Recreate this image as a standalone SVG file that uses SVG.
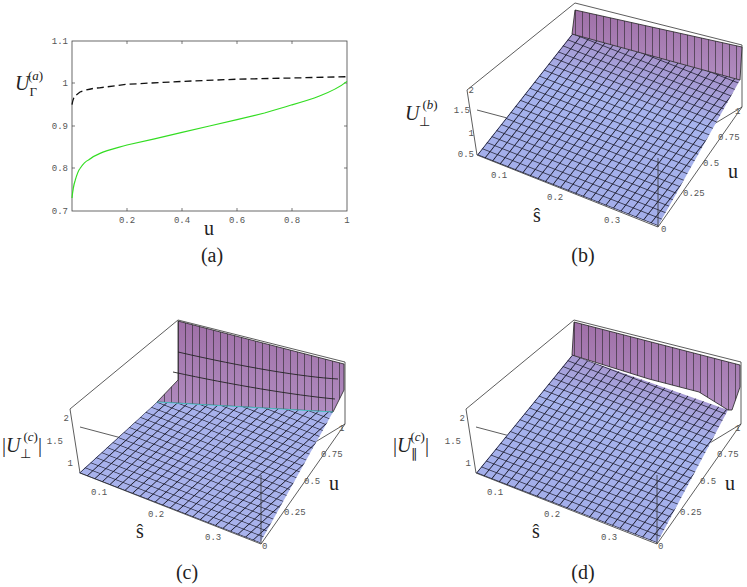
<svg xmlns="http://www.w3.org/2000/svg" width="747" height="587" viewBox="0 0 747 587">
<style>
.tk{font-family:"Liberation Mono",monospace;font-size:9px;fill:#555}
.lb{font-family:"Liberation Serif",serif;font-size:20px;fill:#222}
.it{font-style:italic}
.sm{font-size:13px}
.box{fill:none;stroke:#333;stroke-width:0.8}
.grid{fill:none;stroke:#1a1a2a;stroke-width:2.1}
</style>
<defs>
<linearGradient id="pg" gradientUnits="userSpaceOnUse" x1="600" y1="200" x2="650" y2="40">
<stop offset="0" stop-color="#a3aeea"/><stop offset="0.6" stop-color="#a7b4ee"/><stop offset="1" stop-color="#a68bc4"/>
</linearGradient>
<linearGradient id="wg" x1="0" y1="0" x2="0" y2="1">
<stop offset="0" stop-color="#a070a8"/><stop offset="1" stop-color="#b08cc0"/>
</linearGradient>
<pattern id="gb" patternUnits="userSpaceOnUse" width="10" height="10" patternTransform="matrix(0.754 0.296 0.475 -0.605 477 155)">
<path class="grid" d="M0 0H10M0 0V10"/>
</pattern>
<pattern id="gd" patternUnits="userSpaceOnUse" width="10" height="10" patternTransform="matrix(0.754 0.292 0.48 -0.59 477 156)">
<path class="grid" d="M0 0H10M0 0V10"/>
</pattern>
<pattern id="gc" patternUnits="userSpaceOnUse" width="10" height="10" patternTransform="matrix(0.754 0.292 0.55 -0.505 476 156)">
<path class="grid" d="M0 0H10M0 0V10"/>
</pattern>
<pattern id="wv" patternUnits="userSpaceOnUse" width="10" height="10" patternTransform="matrix(0.70 0.18 0 1 575 0)">
<path fill="none" stroke="#222" stroke-width="1.6" d="M0 0V10"/>
</pattern>
</defs>

<g id="panel-a">
<rect x="72" y="41" width="275" height="170" fill="none" stroke="#444" stroke-width="0.8"/>
<path stroke="#444" stroke-width="0.7" d="M127 211v-3M182 211v-3M237 211v-3M292 211v-3M127 41v3M182 41v3M237 41v3M292 41v3M72 168h3M72 126h3M72 83h3M347 168h-3M347 126h-3M347 83h-3"/>
<path fill="none" stroke="#111" stroke-width="1.3" stroke-dasharray="7,4" d="M72 104.7 C73 99 74 97 75 96 L80 92 C88 89 95 88 99.5 87.8 L127 84.3 L182 81.4 L237 79.2 L292 78 L347 76.7"/>
<path fill="none" stroke="#33dd22" stroke-width="1.2" d="M72 198 C73 188 74 184 75 181 C77 174 78 171 80 168.5 C83 164 86 161 88.5 160 C92 157 96 155 99.5 153.6 C108 150 117 148 127 145 L154.5 138.8 L182 132.4 L209.5 126 L237 119.6 L264.5 113 C275 110 285 107 292 104.8 C302 102 312 99 319.5 96 C330 92 340 87 347 81.4"/>
<g class="tk" text-anchor="end">
<text x="68" y="44">1.1</text><text x="68" y="86">1</text><text x="68" y="129">0.9</text><text x="68" y="171">0.8</text><text x="68" y="214">0.7</text>
</g>
<g class="tk" text-anchor="middle">
<text x="127" y="223">0.2</text><text x="182" y="223">0.4</text><text x="237" y="223">0.6</text><text x="292" y="223">0.8</text><text x="347" y="223">1</text>
</g>
<text class="lb" x="209" y="235" text-anchor="middle">u</text>
<text class="lb" x="15" y="90"><tspan class="it">U</tspan><tspan class="sm" dy="6">Γ</tspan><tspan class="sm" dx="-9" dy="-16">(</tspan><tspan class="sm it">a</tspan><tspan class="sm">)</tspan></text>
<text class="lb" x="212" y="262" text-anchor="middle">(a)</text>
</g>

<g id="panel-b">
<path class="box" d="M467 90L575 3L742 45M467 90L477 155M742 45V107M477 110L658 158L742 107"/>
<polygon points="477,155 658,226 740,80 572,34" fill="url(#pg)"/>
<polygon points="477,155 658,226 740,80 572,34" fill="url(#gb)"/>
<polygon points="575,10 742,47 740,80 572,34" fill="url(#wg)" stroke="#222" stroke-width="0.8"/>
<polygon points="575,10 742,47 740,80 572,34" fill="url(#wv)"/>
<path class="box" d="M477 155L658 227L742 107M658 158V227"/>
<g class="tk" text-anchor="end"><text x="474" y="93">2</text><text x="470" y="113">1.5</text><text x="474" y="136">1</text><text x="474" y="157">0.5</text></g>
<g class="tk"><text x="491" y="178">0.1</text><text x="547" y="200">0.2</text><text x="604" y="223">0.3</text><text x="661" y="232">0</text><text x="683" y="196">0.25</text><text x="703" y="166">0.5</text><text x="718" y="140">0.75</text><text x="735" y="114">1</text></g>
<text class="lb" x="537" y="222" text-anchor="middle">ŝ</text>
<text class="lb" x="733" y="178" text-anchor="middle">u</text>
<text class="lb" x="405" y="120"><tspan class="it">U</tspan><tspan class="sm" dy="6">⊥</tspan><tspan class="sm" dx="-8" dy="-17">(</tspan><tspan class="sm it">b</tspan><tspan class="sm">)</tspan></text>
<text class="lb" x="583" y="262" text-anchor="middle">(b)</text>
</g>

<g id="panel-c" transform="translate(-397,317)">
<path class="box" d="M467 92L575 3L742 45M467 92L477 156M742 45V107M477 110L658 158L742 107"/>
<polygon points="575,4 741,47 741,73 730,95 554,85 575,63" fill="url(#wg)" stroke="#222" stroke-width="0.8"/>
<polygon points="575,4 741,47 741,73 730,95 554,85 575,63" fill="url(#wv)"/>
<path fill="none" stroke="#222" stroke-width="0.9" d="M575 35C640 50 700 60 735 62M570 55C630 68 690 78 732 82"/>
<polygon points="476,156 657,226 730,95 554,85" fill="#a8b2ec"/>
<polygon points="476,156 657,226 730,95 554,85" fill="url(#gc)"/>
<path stroke="#4cc" stroke-width="0.8" d="M554 85L730 95"/>
<path class="box" d="M477 156L658 227L742 107M658 158V227"/>
<g class="tk" text-anchor="end"><text x="466" y="104">2</text><text x="460" y="127">1.5</text><text x="470" y="149">1</text></g>
<g class="tk"><text x="488" y="178">0.1</text><text x="545" y="200">0.2</text><text x="602" y="223">0.3</text><text x="659" y="232">0</text><text x="681" y="198">0.25</text><text x="701" y="167">0.5</text><text x="718" y="140">0.75</text><text x="736" y="114">1</text></g>
<text class="lb" x="537" y="221" text-anchor="middle">ŝ</text>
<text class="lb" x="731" y="173" text-anchor="middle">u</text>
<text class="lb" x="399" y="135"><tspan>|</tspan><tspan class="it">U</tspan><tspan class="sm" dy="6">⊥</tspan><tspan class="sm" dx="-8" dy="-17">(</tspan><tspan class="sm it">c</tspan><tspan class="sm">)</tspan><tspan dy="11">|</tspan></text>
<text class="lb" x="584" y="262" text-anchor="middle">(c)</text>
</g>

<g id="panel-d" transform="translate(-1,317)">
<path class="box" d="M467 92L575 3L742 45M467 92L477 156M742 45V107M477 110L658 158L742 107"/>
<polygon points="477,156 658,226 729,93 573,38" fill="url(#pg)"/>
<polygon points="477,156 658,226 729,93 573,38" fill="url(#gd)"/>
<polygon points="575,5 741,48 741,70 733,93 729,93 700,75 650,62 573,38" fill="url(#wg)" stroke="#222" stroke-width="0.8"/>
<polygon points="575,5 741,48 741,70 733,93 729,93 700,75 650,62 573,38" fill="url(#wv)"/>
<path class="box" d="M477 156L658 227L742 107M658 158V227"/>
<g class="tk" text-anchor="end"><text x="466" y="104">2</text><text x="462" y="127">1.5</text><text x="472" y="149">1</text></g>
<g class="tk"><text x="488" y="178">0.1</text><text x="545" y="200">0.2</text><text x="602" y="223">0.3</text><text x="659" y="232">0</text><text x="681" y="198">0.25</text><text x="701" y="167">0.5</text><text x="718" y="140">0.75</text><text x="736" y="114">1</text></g>
<text class="lb" x="537" y="221" text-anchor="middle">ŝ</text>
<text class="lb" x="731" y="173" text-anchor="middle">u</text>
<text class="lb" x="394" y="135"><tspan>|</tspan><tspan class="it">U</tspan><tspan class="sm" dy="6">∥</tspan><tspan class="sm" dx="-8" dy="-17">(</tspan><tspan class="sm it">c</tspan><tspan class="sm">)</tspan><tspan dy="11">|</tspan></text>
<text class="lb" x="584" y="262" text-anchor="middle">(d)</text>
</g>
</svg>
